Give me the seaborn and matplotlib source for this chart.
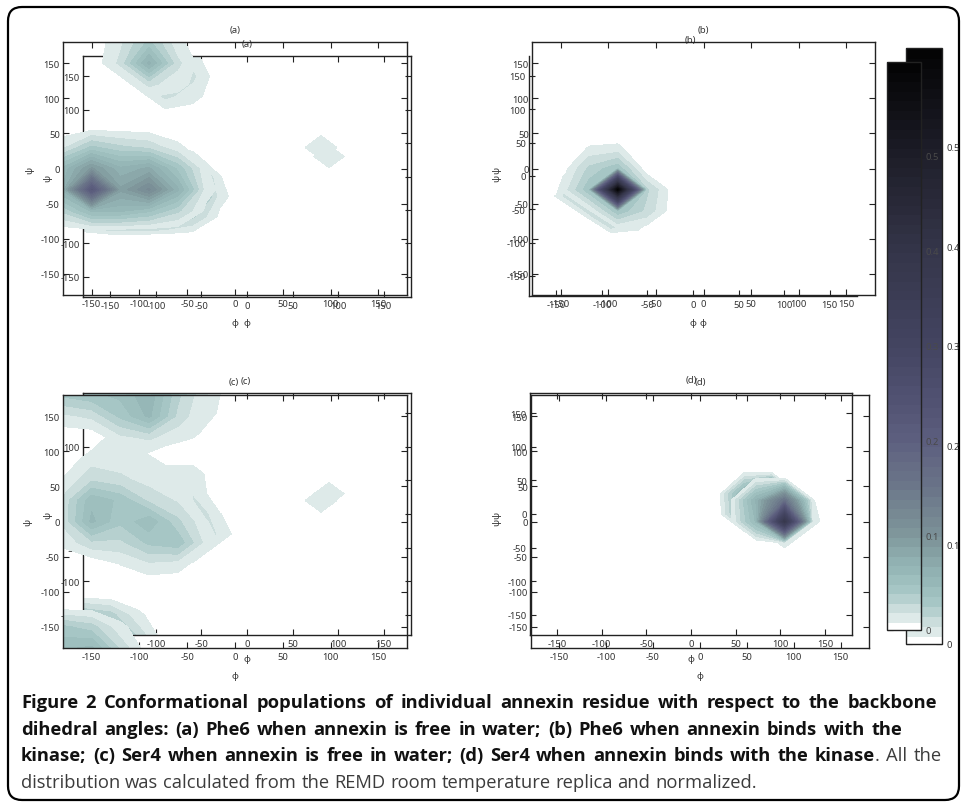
import numpy as np
import matplotlib
matplotlib.use("Agg")
import matplotlib.pyplot as plt
import seaborn as sns
from matplotlib.colors import LinearSegmentedColormap, ListedColormap, BoundaryNorm
from matplotlib.cm import ScalarMappable
from matplotlib.patches import FancyBboxPatch
from matplotlib.transforms import IdentityTransform

# ---------------- data ----------------
PHI_GRID = [-180, -150, -120, -90, -60, -30, 0, 30, 60, 90, 120, 150, 180]
PSI_GRID = [-180, -150, -120, -90, -60, -30, 0, 30, 60, 90, 120, 150, 180]
AXIS_TICKS = [-150, -100, -50, 0, 50, 100, 150]
PANEL_LABELS = ["(a)", "(b)", "(c)", "(d)"]
XLABEL = "ϕ"
YLABEL = "ψ"

# (phi, psi, normalized population)
phe6_water = [
    (-120, 180, 0.015), (-90, 180, 0.04), (-60, 180, 0.01),
    (-120, 150, 0.02), (-90, 150, 0.07), (-60, 150, 0.02),
    (-90, 120, 0.02), (-60, 120, 0.012),
    (-180, 30, 0.015), (-150, 30, 0.04), (-120, 30, 0.03), (-90, 30, 0.025), (-60, 30, 0.01),
    (-180, 0, 0.06), (-150, 0, 0.1), (-120, 0, 0.07), (-90, 0, 0.08), (-60, 0, 0.045), (-30, 0, 0.008),
    (-180, -30, 0.07), (-150, -30, 0.22), (-120, -30, 0.09), (-90, -30, 0.12), (-60, -30, 0.07), (-30, -30, 0.011),
    (-180, -60, 0.03), (-150, -60, 0.06), (-120, -60, 0.06), (-90, -60, 0.05), (-60, -60, 0.03), (-30, -60, 0.005),
    (90, 30, 0.017),
]
phe6_kinase = [
    (-90, -30, 0.59),
    (-120, -30, 0.045), (-60, -30, 0.03), (-90, 0, 0.045), (-90, -60, 0.045),
    (-120, 0, 0.03), (-150, -30, 0.008), (-120, 30, 0.008), (-90, 30, 0.009),
    (-120, -60, 0.006), (-60, -60, 0.025),
]
ser4_water = [
    (-180, 180, 0.04), (-150, 180, 0.045), (-120, 180, 0.05), (-90, 180, 0.065), (-60, 180, 0.03), (-30, 180, 0.008),
    (-180, 150, 0.015), (-150, 150, 0.02), (-120, 150, 0.04), (-90, 150, 0.06), (-60, 150, 0.025), (-30, 150, 0.005),
    (-120, 120, 0.015), (-90, 120, 0.02), (-60, 120, 0.01),
    (-150, 90, 0.012), (-120, 90, 0.011),
    (-180, 60, 0.008), (-150, 60, 0.025), (-120, 60, 0.02), (-90, 60, 0.013), (-60, 60, 0.013),
    (-180, 30, 0.02), (-150, 30, 0.055), (-120, 30, 0.045), (-90, 30, 0.025), (-60, 30, 0.016),
    (-180, 0, 0.02), (-150, 0, 0.06), (-120, 0, 0.04), (-90, 0, 0.055), (-60, 0, 0.03), (-30, 0, 0.008),
    (-180, -30, 0.01), (-150, -30, 0.025), (-120, -30, 0.025), (-90, -30, 0.04), (-60, -30, 0.045), (-30, -30, 0.013),
    (-120, -60, 0.008), (-90, -60, 0.016), (-60, -60, 0.013),
    (-180, -150, 0.04), (-150, -150, 0.032), (-120, -150, 0.01),
    (-180, -180, 0.055), (-150, -180, 0.06), (-120, -180, 0.025),
    (90, 30, 0.017),
]
ser4_kinase = [
    (90, 0, 0.38), (90, 30, 0.16), (60, 30, 0.07), (60, 0, 0.06),
    (120, 0, 0.01), (120, 30, 0.008), (90, -30, 0.01), (60, 60, 0.008), (90, 60, 0.008),
]
PANEL_DATA = [phe6_water, phe6_kinase, ser4_water, ser4_kinase]

CBAR_TICKS = [0.0, 0.1, 0.2, 0.3, 0.4, 0.5]
CBAR_TICKLABELS = ["0", "0.1", "0.2", "0.3", "0.4", "0.5"]
LEVELS = [0.0] + [round(0.0075 + 0.01 * k, 4) for k in range(59)] + [0.599]
CMAP_VALUES = [0.0, 0.006, 0.012, 0.022, 0.032, 0.045, 0.06, 0.08, 0.10, 0.15, 0.20, 0.25, 0.30, 0.40, 0.50, 0.599]
CMAP_COLORS = ["#ffffff", "#f4f8f8", "#dde9e8", "#c9dcdb", "#b3cecd", "#a3c4c3", "#97b8b8", "#8caaac",
               "#7f979b", "#6c778a", "#5d5f7f", "#4f5070", "#434461", "#343549", "#1d1d28", "#030303"]

CAPTION_LINES = [
    [("Figure 2 Conformational populations of individual annexin residue with respect to the backbone", "bold")],
    [("dihedral angles: (a) Phe6 when annexin is free in water; (b) Phe6 when annexin binds with the", "bold")],
    [("kinase; (c) Ser4 when annexin is free in water; (d) Ser4 when annexin binds with the kinase", "bold"),
     (". All the", "normal")],
    [("distribution was calculated from the REMD room temperature replica and normalized.", "normal")],
]

# ---------------- style ----------------
sns.set_theme(style="ticks")
plt.rcParams["font.family"] = ["Noto Sans", "DejaVu Sans"]
plt.rcParams["axes.unicode_minus"] = False

W, H = 963, 804
fig = plt.figure(figsize=(W / 100, H / 100), dpi=100)
fig.patch.set_facecolor("white")

# colormap (bone-like, white -> teal -> slate -> black)
base_cmap = LinearSegmentedColormap.from_list(
    "annexin", list(zip(np.array(CMAP_VALUES) / CMAP_VALUES[-1], CMAP_COLORS)))
levels = np.array(LEVELS)
mids = (levels[:-1] + levels[1:]) / 2
band_rgba = [tuple(base_cmap(m / levels[-1])) for m in mids]
contour_cmap = ListedColormap([(1, 1, 1, 0)] + band_rgba[1:])
cbar_cmap = ListedColormap([(1, 1, 1, 1)] + band_rgba[1:])
band_norm = BoundaryNorm(levels, ncolors=len(levels) - 1)


def rect(box):
    x0, y0, x1, y1 = box
    return [x0 / W, 1 - y1 / H, (x1 - x0) / W, (y1 - y0) / H]


def to_axes(box, x, y):
    x0, y0, x1, y1 = box
    return (x - x0) / (x1 - x0), (y1 - y) / (y1 - y0)


def grid_from(points):
    Z = np.zeros((len(PSI_GRID), len(PHI_GRID)))
    for phi, psi, v in points:
        Z[PSI_GRID.index(psi), PHI_GRID.index(phi)] = v
    return Z


# layout (pixel boxes): two overlaid renderings of the same figure
OUTER = [(63, 43, 407, 296), (532, 43, 875, 296), (63, 396, 407, 649), (531, 396, 869, 649)]
INNER = [(83, 57, 411, 298), (529, 57, 857, 297), (83, 394, 411, 636), (530, 394, 852, 636)]
OUTER_TITLE = [(235, 30), (703, 30), (234, 382), (700, 383)]
INNER_TITLE = [(247, 45), (690, 40), (246, 382), (691, 381)]
OUTER_XLAB = [(235, 324), (703, 324), (235, 677), (700, 677)]
INNER_XLAB = [(247, 324), (693, 324), (247, 660), (691, 660)]
OUTER_YLAB = [(30, 170), (497, 170), (28, 522), (497, 522)]
INNER_YLAB = [(48, 178), (497, 178), (48, 515), (497, 515)]

TXT = "#333333"
SPINE = "#222222"
TICK_SIZE = 6.8


def draw_panel(box, Z, label, title_xy, xlab_xy, ylab_xy, zorder, full_frame=True):
    ax = fig.add_axes(rect(box))
    ax.set_zorder(zorder)
    ax.set_facecolor("none")
    ax.contourf(PHI_GRID, PSI_GRID, Z, levels=levels, cmap=contour_cmap, norm=band_norm)
    ax.set_xlim(-180, 180)
    ax.set_ylim(-180, 180)
    ax.set_xticks(AXIS_TICKS)
    ax.set_yticks(AXIS_TICKS)
    ax.set_xticklabels([str(t) for t in AXIS_TICKS])
    ax.set_yticklabels([str(t) for t in AXIS_TICKS])
    for s in ax.spines.values():
        s.set_linewidth(1.0)
        s.set_color(SPINE)
    ax.tick_params(axis="both", direction="in", length=4, width=0.8, color=SPINE,
                   labelsize=TICK_SIZE, labelcolor=TXT, top=full_frame, right=full_frame)
    ax.tick_params(axis="x", pad=3.0)
    ax.tick_params(axis="y", pad=2.2)
    if not full_frame:
        ax.spines["top"].set_visible(False)
        ax.spines["right"].set_visible(False)
    tx, ty = to_axes(box, *title_xy)
    ax.text(tx, ty, label, transform=ax.transAxes, ha="center", va="center",
            fontsize=TICK_SIZE, color=TXT)
    ax.set_xlabel(XLABEL, fontsize=TICK_SIZE, color=TXT)
    ax.xaxis.set_label_coords(*to_axes(box, *xlab_xy))
    ax.xaxis.label.set_va("center")
    ax.set_ylabel(YLABEL, fontsize=TICK_SIZE, color=TXT)
    ax.yaxis.set_label_coords(*to_axes(box, *ylab_xy))
    ax.yaxis.label.set_va("center")
    ax.yaxis.label.set_ha("center")
    return ax


for i, pts in enumerate(PANEL_DATA):
    Z = grid_from(pts)
    draw_panel(INNER[i], Z, PANEL_LABELS[i], INNER_TITLE[i], INNER_XLAB[i], INNER_YLAB[i],
               zorder=1, full_frame=(i != 1))
    draw_panel(OUTER[i], Z, PANEL_LABELS[i], OUTER_TITLE[i], OUTER_XLAB[i], OUTER_YLAB[i],
               zorder=2, full_frame=True)


def draw_cbar(box, zorder, label_color):
    cax = fig.add_axes(rect(box))
    cax.set_zorder(zorder)
    cb = fig.colorbar(ScalarMappable(norm=band_norm, cmap=cbar_cmap), cax=cax,
                      spacing="proportional", ticks=CBAR_TICKS)
    cb.set_ticklabels(CBAR_TICKLABELS)
    cb.outline.set_linewidth(1.0)
    cb.outline.set_edgecolor(SPINE)
    cax.yaxis.set_ticks_position("both")
    cax.tick_params(direction="in", length=4, width=0.8, color=SPINE, labelsize=TICK_SIZE,
                    labelcolor=label_color, left=True, right=True,
                    labelleft=False, labelright=True, pad=3)
    cax.minorticks_off()
    return cb


draw_cbar((906, 49, 942, 645), zorder=3, label_color=TXT)
draw_cbar((887, 63, 921, 631), zorder=4, label_color="#4a4a4a")

# rounded frame around the figure
frame = FancyBboxPatch((8, 3), 951, 793, boxstyle="round,pad=0,rounding_size=14",
                       transform=IdentityTransform(), fill=False, lw=1.6, ec="black")
fig.add_artist(frame)

# ---------------- caption ----------------
CAP_FONT = ["Open Sans", "DejaVu Sans"]
CAP_SIZE = 13.2
CAP_X0 = 21
CAP_BASELINES = [708, 735, 761, 788]
CAP_ENDS = [937, 902, 942, None]
CAP_COLORS = {"bold": "#111111", "normal": "#3c3c3c"}

renderer = fig.canvas.get_renderer()


def text_width(s, weight, size):
    t = fig.text(0, 0, s, fontsize=size, fontweight=weight, family=CAP_FONT)
    w = t.get_window_extent(renderer).width
    t.remove()
    return w


for line, base, end in zip(CAPTION_LINES, CAP_BASELINES, CAP_ENDS):
    words = []
    for seg, weight in line:
        parts = seg.split(" ")
        for j, p in enumerate(parts):
            if p == "":
                continue
            if j == 0 and not seg.startswith(" ") and words:
                words[-1].append((p, weight))
            else:
                words.append([(p, weight)])
    size = CAP_SIZE
    wt = line[0][1]
    while True:
        widths = [[text_width(p, w, size) for p, w in word] for word in words]
        total = sum(sum(ws) for ws in widths)
        space = text_width("a a", wt, size) - text_width("aa", wt, size)
        if end is not None and len(words) > 1:
            gap = (end - CAP_X0 - total) / (len(words) - 1)
        else:
            gap = space
        if gap >= 0.75 * space or size < 9:
            break
        size -= 0.2
    x = CAP_X0
    for word, ws in zip(words, widths):
        for (p, w), pw in zip(word, ws):
            fig.text(x / W, 1 - base / H, p, fontsize=size, fontweight=w, family=CAP_FONT,
                     color=CAP_COLORS[w], va="baseline", ha="left")
            x += pw
        x += gap

fig.savefig("out.png", dpi=100)
